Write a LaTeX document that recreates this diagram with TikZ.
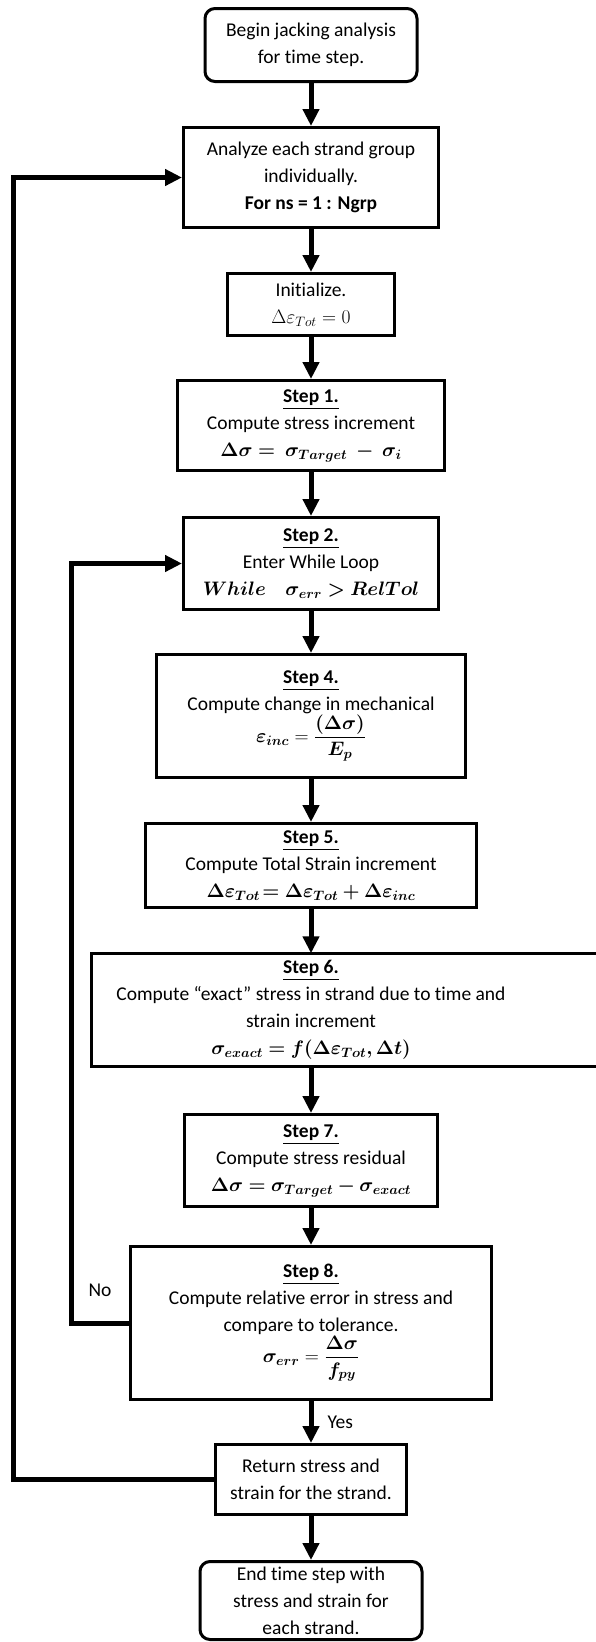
\RequirePackage{fix-cm}
\documentclass[tikz,border=0pt]{standalone}
\usepackage{amsmath}
\usepackage{bm}
\usepackage{fontspec}
\setmainfont{Carlito}[Ligatures=NoCommon]
\usetikzlibrary{arrows.meta,positioning}

\begin{document}
\begin{tikzpicture}[x=1pt, y=-1pt,
  every node/.style={font=\fontsize{19.5}{27}\selectfont, align=center, inner sep=0pt},
  stepbox/.style={draw, line width=3pt, minimum width=#1},
  endbox/.style={stepbox=#1, rounded corners=10pt},
  flow/.style={line width=5pt, -{Triangle[length=17pt,width=16pt]}}]
\useasboundingbox (0,0) rectangle (595,1642);
% Start and loop over strand groups
\node[endbox=212, minimum height=73] (start) at (311,45)
  {Begin jacking analysis\\for time step.};
\node[stepbox=255, minimum height=100] (group) at (311,177.5)
  {Analyze each strand group\\individually.\\\textbf{For ns = 1 : Ngrp}};
\node[stepbox=167, minimum height=62] (init) at (311,304.5)
  {Initialize.\\$\Delta\varepsilon_{Tot} = 0$};
\node[stepbox=267, minimum height=90] (s1) at (311,425.5)
  {\underline{\textbf{Step 1.}}\\Compute stress increment\\$\bm{\Delta\sigma =\ \sigma_{Target}\ -\ \sigma_i}$};
% While loop
\node[stepbox=255, minimum height=92] (s2) at (311,563.5)
  {\underline{\textbf{Step 2.}}\\Enter While Loop\\$\bm{While\quad\sigma_{err} > RelTol}$};
\node[stepbox=309, minimum height=123] (s4) at (311,716)
  {\underline{\textbf{Step 4.}}\\Compute change in mechanical\\$\bm{\varepsilon_{inc}} = \dfrac{\bm{(\Delta\sigma)}}{\bm{E_p}}$};
\node[stepbox=331, minimum height=84] (s5) at (311,865.5)
  {\underline{\textbf{Step 5.}}\\Compute Total Strain increment\\$\bm{\Delta\varepsilon_{Tot}\!= \Delta\varepsilon_{Tot} + \Delta\varepsilon_{inc}}$};
\node[minimum height=113] (s6) at (311,1010)
  {\underline{\textbf{Step 6.}}\\Compute “exact” stress in strand due to time and\\strain increment\\$\bm{\sigma_{exact} = f(\Delta\varepsilon_{Tot}, \Delta t)}$};
\coordinate (s6l) at (91,1010);
\coordinate (s6r) at (598,1010);
\draw[line width=3pt] (s6.north -| s6l) rectangle (s6.south -| s6r);
\node[stepbox=253, minimum height=92] (s7) at (311,1160.5)
  {\underline{\textbf{Step 7.}}\\Compute stress residual\\$\bm{\Delta\sigma = \sigma_{Target} - \sigma_{exact}}$};
\node[stepbox=361, minimum height=153] (s8) at (311,1323)
  {\underline{\textbf{Step 8.}}\\Compute relative error in stress and\\compare to tolerance.\\$\bm{\sigma_{err}} = \dfrac{\bm{\Delta\sigma}}{\bm{f_{py}}}$};
% End of strand and time step
\node[stepbox=191, minimum height=70] (ret) at (311,1479.5)
  {Return stress and\\strain for the strand.};
\node[endbox=222, minimum height=78] (fin) at (311,1600.5)
  {End time step with\\stress and strain for\\each strand.};

% Main flow
\draw[flow] (start) -- (group);
\draw[flow] (group) -- (init);
\draw[flow] (init) -- (s1);
\draw[flow] (s1) -- (s2);
\draw[flow] (s2) -- (s4);
\draw[flow] (s4) -- (s5);
\draw[flow] (s5) -- (s6.north);
\draw[flow] (s6.south) -- (s7);
\draw[flow] (s7) -- (s8);
\draw[flow] (s8) -- node[anchor=west, xshift=14pt] {Yes} (ret);
\draw[flow] (ret) -- (fin);

% Loops back
\coordinate (innerx) at (71,0);
\coordinate (outerx) at (13,0);
\draw[flow] (s8.west) -- node[yshift=33pt] {No} (s8.west -| innerx) |- (s2.west);
\draw[flow] (ret.west) -- (ret.west -| outerx) |- (group.west);
\end{tikzpicture}
\end{document}
